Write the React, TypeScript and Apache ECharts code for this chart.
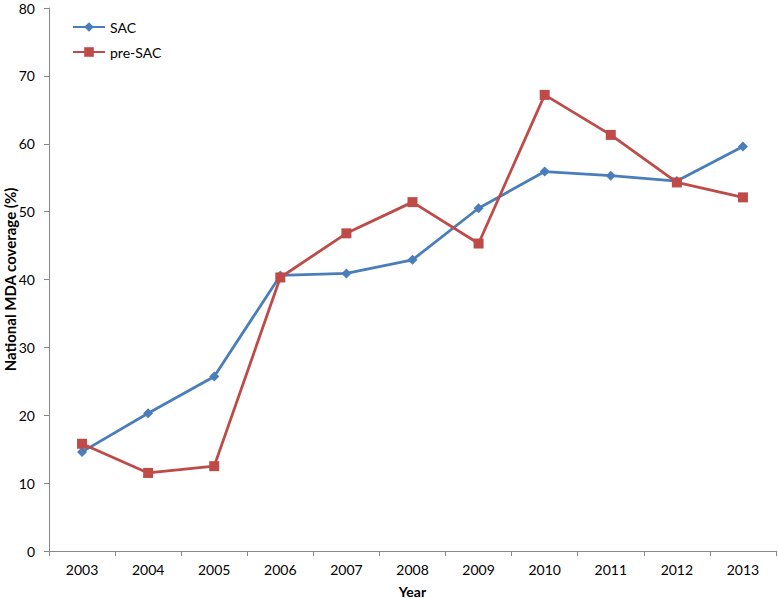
import React, { useEffect, useRef } from "react";
import * as echarts from "echarts";

const years = ["2003", "2004", "2005", "2006", "2007", "2008", "2009", "2010", "2011", "2012", "2013"];
const sac = [14.6, 20.3, 25.7, 40.6, 40.9, 42.9, 50.5, 55.9, 55.3, 54.5, 59.6];
const preSac = [15.8, 11.5, 12.5, 40.3, 46.8, 51.4, 45.3, 67.2, 61.3, 54.3, 52.1];

const FONT = "Lato, 'Open Sans', sans-serif";

export default function App() {
  const ref = useRef<HTMLDivElement>(null);
  useEffect(() => {
    if (!ref.current) return;
    const chart = echarts.init(ref.current, undefined, { renderer: "svg" });
    chart.setOption({
      animation: false,
      backgroundColor: "#ffffff",
      textStyle: { fontFamily: FONT },
      grid: { left: 49, right: 2, top: 8, bottom: 47, containLabel: false, outerBoundsMode: "none" },
      legend: {
        left: 67,
        top: 15,
        orient: "vertical",
        itemGap: 11,
        itemWidth: 32,
        itemHeight: 12,
        textStyle: { fontSize: 14, color: "#000", fontFamily: FONT },
        data: ["SAC", "pre-SAC"],
      },
      xAxis: {
        type: "category",
        data: years,
        boundaryGap: true,
        name: "Year",
        nameLocation: "middle",
        nameGap: 33,
        nameMoveOverlap: false,
        nameTextStyle: { fontWeight: "bold", fontSize: 14, color: "#000", fontFamily: FONT },
        axisLine: { lineStyle: { color: "#888", width: 1 } },
        axisTick: { show: true, length: 5, lineStyle: { color: "#888" }, alignWithLabel: false },
        axisLabel: { fontSize: 14, color: "#000", margin: 11, fontFamily: FONT },
        splitLine: { show: false },
      },
      yAxis: {
        type: "value",
        min: 0,
        max: 80,
        interval: 10,
        name: "National MDA coverage (%)",
        nameLocation: "middle",
        nameGap: 32,
        nameMoveOverlap: false,
        nameRotate: 90,
        nameTextStyle: { fontWeight: "bold", fontSize: 15, color: "#000", fontFamily: FONT },
        axisLine: { show: true, lineStyle: { color: "#888", width: 1 } },
        axisTick: { show: true, length: 5, lineStyle: { color: "#888" } },
        axisLabel: { fontSize: 14, color: "#000", margin: 14, fontFamily: FONT },
        splitLine: { show: false },
      },
      series: [
        {
          name: "SAC",
          type: "line",
          data: sac,
          symbol: "diamond",
          symbolSize: 10,
          itemStyle: { color: "#4A7EBB" },
          lineStyle: { color: "#4A7EBB", width: 2.8 },
        },
        {
          name: "pre-SAC",
          type: "line",
          data: preSac,
          symbol: "rect",
          symbolSize: 10,
          itemStyle: { color: "#BE4B48" },
          lineStyle: { color: "#BE4B48", width: 2.8 },
        },
      ],
    });
    return () => chart.dispose();
  }, []);
  return <div ref={ref} style={{ width: 778, height: 598, position: "absolute", left: 0, top: 0 }} />;
}
